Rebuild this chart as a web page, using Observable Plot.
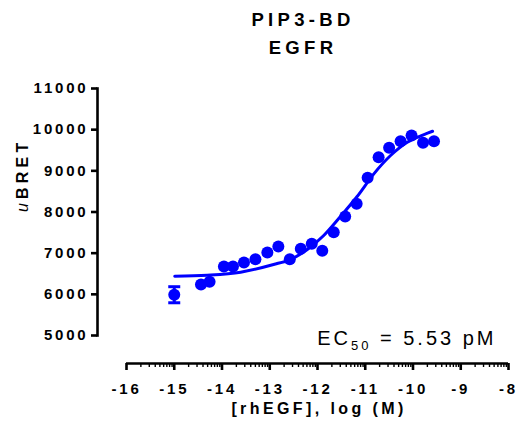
<!DOCTYPE html>
<html>
<head>
<meta charset="utf-8">
<script src="https://cdn.jsdelivr.net/npm/d3@7"></script>
<script src="https://cdn.jsdelivr.net/npm/@observablehq/plot@0.6"></script>
<style>
  body { margin: 0; background: #fff; }
  .ttl text { letter-spacing: 4.3px; }
  .ytk text { letter-spacing: 2.8px; }
  .xtk text { letter-spacing: 2.8px; }
  .ylab text { letter-spacing: 4.2px; }
  .xlab text { letter-spacing: 3.4px; }
  .ec50 text { letter-spacing: 3px; }
</style>
</head>
<body>
<div id="chart"></div>
<script>
// ---- data ----
const titleLine1 = "PIP3-BD";
const titleLine2 = "EGFR";
const xLabel = "[rhEGF], log (M)";
const yLabelItalic = "u";
const yLabelRest = "BRET";
const ec50Main = "EC";
const ec50Sub = "50";
const ec50Rest = " = 5.53 pM";

const logConc = [-15.0, -14.44, -14.26, -13.96, -13.77, -13.54, -13.30, -13.05, -12.82, -12.58, -12.35, -12.12,
                 -11.90, -11.66, -11.42, -11.18, -10.95, -10.72, -10.50, -10.26, -10.03, -9.79, -9.56];
const bret = [5990, 6239, 6304, 6676, 6676, 6773, 6853, 7016, 7162, 6853, 7105, 7227,
              7057, 7510, 7890, 8198, 8830, 9330, 9559, 9720, 9858, 9680, 9720];

// error bar (only visible one)
const errX = [-15.0];
const errMean = [5990];
const errSem = [195];

// fitted curve
const fitLogConc = [-14.99, -14.31, -13.61, -12.92, -12.57, -12.22, -11.87, -11.52, -11.17, -10.82, -10.47, -10.12, -9.77, -9.59];
const fitBret = [6440, 6465, 6538, 6725, 6846, 7082, 7429, 7890, 8376, 8927, 9372, 9695, 9882, 9962];

const xTicks = [-16, -15, -14, -13, -12, -11, -10, -9, -8];
const yTicks = [5000, 6000, 7000, 8000, 9000, 10000, 11000];
const minorMultipliers = [2, 3, 4, 5, 6, 7, 8, 9];
const xDomain = [-16, -8];
const yDomain = [5000, 11000];

// ---- build ----
const blue = "#0000ff";
const points = logConc.map((x, i) => ({x, y: bret[i]}));
const fit = fitLogConc.map((x, i) => ({x, y: fitBret[i]}));
const errBars = errX.map((x, i) => ({x, lo: errMean[i] - errSem[i], hi: errMean[i] + errSem[i]}));
const errCaps = errBars.flatMap(d => [{x: d.x, y: d.lo}, {x: d.x, y: d.hi}]);
const minorTicks = xTicks.slice(0, -1).flatMap(d => minorMultipliers.map(k => d + Math.log10(k)));
const hbar = {draw(ctx, size) { const r = Math.sqrt(size / Math.PI); ctx.moveTo(-r, 0); ctx.lineTo(r, 0); }};
const font = "'Liberation Sans', Arial, Helvetica, sans-serif";

const plot = Plot.plot({
  width: 519,
  height: 425,
  marginLeft: 97,
  marginRight: 11,
  marginTop: 88,
  marginBottom: 90,
  x: {domain: xDomain, insetLeft: 29},
  y: {domain: yDomain},
  style: {fontFamily: font, background: "#fff", color: "#000", overflow: "visible"},
  marks: [
    // y axis
    Plot.frame({anchor: "left", stroke: "#000", strokeWidth: 2.6}),
    Plot.axisY({ticks: yTicks, tickSize: 6, tickPadding: 3, tickFormat: d => String(d),
                fontSize: 15, fontWeight: "bold", strokeWidth: 2.6, label: null, className: "ytk"}),
    // x axis (offset below the data area)
    Plot.ruleY([yDomain[0]], {x1: xDomain[0], x2: xDomain[1], dy: 28, stroke: "#000", strokeWidth: 2.6}),
    Plot.axisX({ticks: minorTicks, tickSize: 4, tickFormat: () => "", dy: 28, strokeWidth: 1.4, label: null}),
    Plot.axisX({ticks: xTicks, tickSize: 7, tickPadding: 13, dy: 28, tickFormat: d => String(d),
                fontSize: 15, fontWeight: "bold", strokeWidth: 2.6, label: null, className: "xtk"}),
    // fit
    Plot.line(fit, {x: "x", y: "y", curve: "monotone-x", stroke: blue, strokeWidth: 3}),
    // error bar
    Plot.ruleX(errBars, {x: "x", y1: "lo", y2: "hi", stroke: blue, strokeWidth: 3}),
    Plot.dot(errCaps, {x: "x", y: "y", r: 6, symbol: hbar, stroke: blue, fill: "none", strokeWidth: 3}),
    // points
    Plot.dot(points, {x: "x", y: "y", r: 6, fill: blue, stroke: "none"}),
    // titles and labels
    Plot.text([titleLine1], {frameAnchor: "top", lineAnchor: "bottom", dy: -63, fontSize: 18.5, fontWeight: "bold", fill: "#000", className: "ttl"}),
    Plot.text([titleLine2], {frameAnchor: "top", lineAnchor: "bottom", dy: -35, fontSize: 18.5, fontWeight: "bold", fill: "#000", className: "ttl"}),
    Plot.text([xLabel], {x: (xDomain[0] + xDomain[1]) / 2, frameAnchor: "bottom", lineAnchor: "bottom", dy: 78, dx: 1.5,
                         fontSize: 16, fontWeight: "bold", fill: "#000", className: "xlab"}),
    Plot.text([yLabelRest], {frameAnchor: "left", rotate: -90, lineAnchor: "bottom", dx: -70, fontSize: 16,
                             fontWeight: "bold", fill: "#000", className: "ylab"}),
    Plot.text([ec50Rest], {frameAnchor: "bottom-right", textAnchor: "end", lineAnchor: "bottom", dx: -12, dy: 9.3,
                           fontSize: 20, fill: "#000", className: "ec50"})
  ]
});

// rich text: italic "u" in the y label, subscript in EC50
const svg = d3.select(plot);
const yl = svg.select(".ylab text");
yl.text(null);
yl.append("tspan").attr("font-style", "italic").attr("font-weight", "normal").text(yLabelItalic);
yl.append("tspan").text(yLabelRest);

const ec = svg.select(".ec50 text");
ec.text(null);
ec.append("tspan").text(ec50Main);
ec.append("tspan").attr("font-size", 13).attr("dy", 5).text(ec50Sub);
ec.append("tspan").attr("dy", -5).text(ec50Rest);

document.getElementById("chart").appendChild(plot);
</script>
</body>
</html>
